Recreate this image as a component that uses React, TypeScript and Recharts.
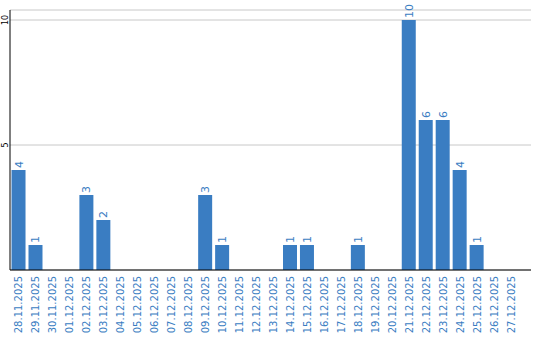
import { BarChart, Bar, XAxis, YAxis, CartesianGrid, LabelList } from 'recharts'

const days = [
  '28.11.2025', '29.11.2025', '30.11.2025', '01.12.2025', '02.12.2025', '03.12.2025',
  '04.12.2025', '05.12.2025', '06.12.2025', '07.12.2025', '08.12.2025', '09.12.2025',
  '10.12.2025', '11.12.2025', '12.12.2025', '13.12.2025', '14.12.2025', '15.12.2025',
  '16.12.2025', '17.12.2025', '18.12.2025', '19.12.2025', '20.12.2025', '21.12.2025',
  '22.12.2025', '23.12.2025', '24.12.2025', '25.12.2025', '26.12.2025', '27.12.2025',
]
const counts = [4, 1, 0, 0, 3, 2, 0, 0, 0, 0, 0, 3, 1, 0, 0, 0, 1, 1, 0, 0, 1, 0, 0, 10, 6, 6, 4, 1, 0, 0]
const yTicks = [5, 10]

const data = days.map((day, i) => ({ day, count: counts[i] }))

const blue = '#3a7dc2'
const font = '"DejaVu Sans", Verdana, sans-serif'

function DayTick({ x, y, payload }: any) {
  return (
    <text
      transform={`translate(${x + 4}, ${y - 2}) rotate(-90)`}
      textAnchor="end"
      fill={blue}
      fontSize={10}
      fontFamily={font}
    >
      {payload.value}
    </text>
  )
}

function CountTick({ y, payload }: any) {
  return (
    <text
      transform={`translate(8, ${y}) rotate(-90)`}
      textAnchor="middle"
      fill="#000"
      fontSize={8}
      fontFamily={font}
    >
      {payload.value}
    </text>
  )
}

function BarValue({ x, y, width, value }: any) {
  if (!value) return null
  return (
    <text
      transform={`translate(${x + width / 2 + 4}, ${y - 2}) rotate(-90)`}
      textAnchor="start"
      fill={blue}
      fontSize={11}
      fontFamily={font}
    >
      {value}
    </text>
  )
}

export default function App() {
  return (
    <div style={{ position: 'absolute', left: 0, top: 0, width: 540, height: 340, background: '#fff' }}>
      <BarChart width={540} height={340} data={data} margin={{ top: 10, right: 9, left: 0, bottom: 0 }} barCategoryGap="9%">
        <CartesianGrid horizontal vertical={false} stroke="#c8c8c8" />
        <XAxis dataKey="day" interval={0} height={70} padding={{ left: 0, right: 12 }} tick={<DayTick />} tickLine={false} axisLine={{ stroke: '#000' }} />
        <YAxis width={10} domain={[0, 10.4]} ticks={yTicks} tick={<CountTick />} tickLine={false} axisLine={{ stroke: '#000' }} />
        <Bar dataKey="count" fill={blue} isAnimationActive={false}>
          <LabelList dataKey="count" content={<BarValue />} />
        </Bar>
      </BarChart>
    </div>
  )
}
